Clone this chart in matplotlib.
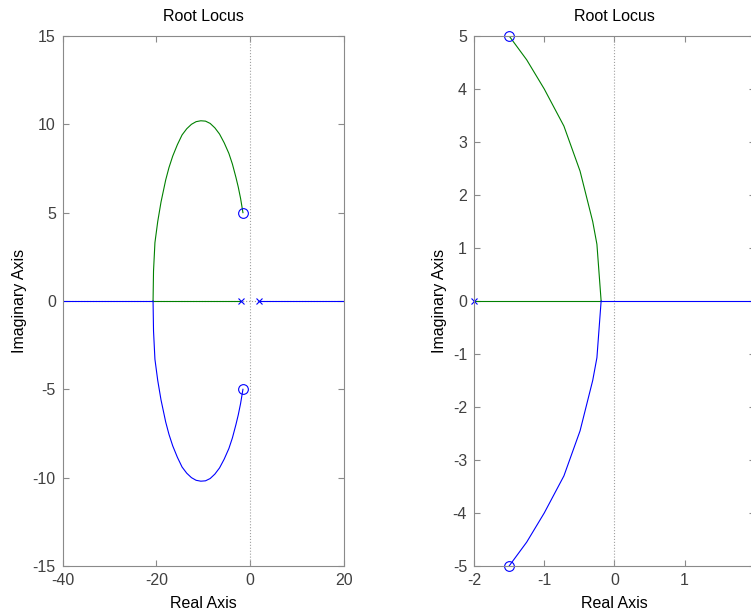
import matplotlib.pyplot as plt
import numpy as np

plt.rcParams['font.family'] = ['Liberation Sans', 'DejaVu Sans']
plt.rcParams['axes.unicode_minus'] = False

# poles and zeros of the open loop system
poles_re = [-2.0, 2.0]
poles_im = [0.0, 0.0]
zeros_re = [-1.5, -1.5]
zeros_im = [5.0, -5.0]

# left plot: branches that meet at about -20.7 on the real axis
left_up_re = [-20.7, -20.6, -20.3, -19.7, -19.0, -18.0, -17.3, -16.5, -15.5,
              -14.5, -13.5, -12.5, -11.5, -10.5, -9.5, -8.5, -7.5, -6.5,
              -5.5, -4.5, -3.75, -3.0, -2.5, -2.0, -1.75, -1.5]
left_up_im = [0.0, 1.7, 3.3, 4.5, 5.6, 6.85, 7.55, 8.2, 8.85,
              9.4, 9.75, 10.0, 10.15, 10.2, 10.18, 10.05, 9.8, 9.45,
              8.95, 8.35, 7.75, 7.0, 6.45, 5.8, 5.4, 5.0]
left_lo_re = [-20.7, -20.6, -20.3, -19.7, -19.0, -18.0, -17.3, -16.5, -15.5,
              -14.5, -13.5, -12.5, -11.5, -10.5, -9.5, -8.5, -7.5, -6.5,
              -5.5, -4.5, -3.75, -3.0, -2.5, -2.0, -1.75, -1.5]
left_lo_im = [0.0, -1.7, -3.3, -4.5, -5.6, -6.85, -7.55, -8.2, -8.85,
              -9.4, -9.75, -10.0, -10.15, -10.2, -10.18, -10.05, -9.8, -9.45,
              -8.95, -8.35, -7.75, -7.0, -6.45, -5.8, -5.4, -5.0]

# right plot: branches that meet at about -0.19
right_up_re = [-0.19, -0.25, -0.31, -0.49, -0.72, -1.0, -1.25, -1.5]
right_up_im = [0.0, 1.07, 1.5, 2.45, 3.3, 4.0, 4.55, 5.0]
right_lo_re = [-0.19, -0.25, -0.31, -0.49, -0.72, -1.0, -1.25, -1.5]
right_lo_im = [0.0, -1.07, -1.5, -2.45, -3.3, -4.0, -4.55, -5.0]

blue = (0, 0, 1)
green = (0, 0.5, 0)
frame = '#8a8a8a'
lw = 0.8
fs = 11.5

fig = plt.figure(figsize=(7.51, 6.16), dpi=100)
ax1 = fig.add_axes([0.0835, 0.0812, 0.374, 0.8604])
ax2 = fig.add_axes([0.6312, 0.0812, 0.374, 0.8604])


def style(ax):
    for s in ax.spines.values():
        s.set_color(frame)
        s.set_linewidth(0.8)
    ax.tick_params(direction='in', top=True, right=True, length=4, pad=5,
                   color=frame, labelcolor='#404040', labelsize=fs, width=0.8)
    ax.set_title('Root Locus', fontsize=fs, pad=11)
    ax.set_xlabel('Real Axis', fontsize=fs, labelpad=6)
    ax.set_ylabel('Imaginary Axis', fontsize=fs, labelpad=4)


# left: negative gain locus
ax1.axvline(0, color='#a0a0a0', ls=':', lw=0.8)
ax1.axhline(0, color='#a0a0a0', ls=':', lw=0.8)
ax1.plot([-40, left_up_re[0]], [0, 0], color=blue, lw=lw)
ax1.plot([poles_re[1], 20], [0, 0], color=blue, lw=lw)
ax1.plot([left_up_re[0], poles_re[0]], [0, 0], color=green, lw=lw)
ax1.plot(left_up_re, left_up_im, color=green, lw=lw)
ax1.plot(left_lo_re, left_lo_im, color=blue, lw=lw)
ax1.plot(poles_re, poles_im, 'x', color=blue, ms=5, mew=0.8)
ax1.plot(zeros_re, zeros_im, 'o', mfc='none', mec=blue, ms=7, mew=0.8)
ax1.set_xlim(-40, 20)
ax1.set_ylim(-15, 15)
ax1.set_xticks([-40, -20, 0, 20])
ax1.set_yticks(np.arange(-15, 16, 5))
style(ax1)

# right: positive gain locus
ax2.axvline(0, color='#a0a0a0', ls=':', lw=0.8)
ax2.plot([poles_re[0], right_up_re[0]], [0, 0], color=green, lw=lw)
ax2.plot([right_up_re[0], poles_re[1]], [0, 0], color=blue, lw=lw)
ax2.plot(right_up_re, right_up_im, color=green, lw=lw)
ax2.plot(right_lo_re, right_lo_im, color=blue, lw=lw)
ax2.plot(poles_re, poles_im, 'x', color=blue, ms=5, mew=0.8, clip_on=False)
ax2.plot(zeros_re, zeros_im, 'o', mfc='none', mec=blue, ms=7, mew=0.8, clip_on=False)
ax2.set_xlim(-2, 2)
ax2.set_ylim(-5, 5)
# the figure edge cuts off the tick at 2
ax2.set_xticks([-2, -1, 0, 1])
ax2.set_yticks(np.arange(-5, 6, 1))
style(ax2)

fig.savefig('out.png', dpi=100)
